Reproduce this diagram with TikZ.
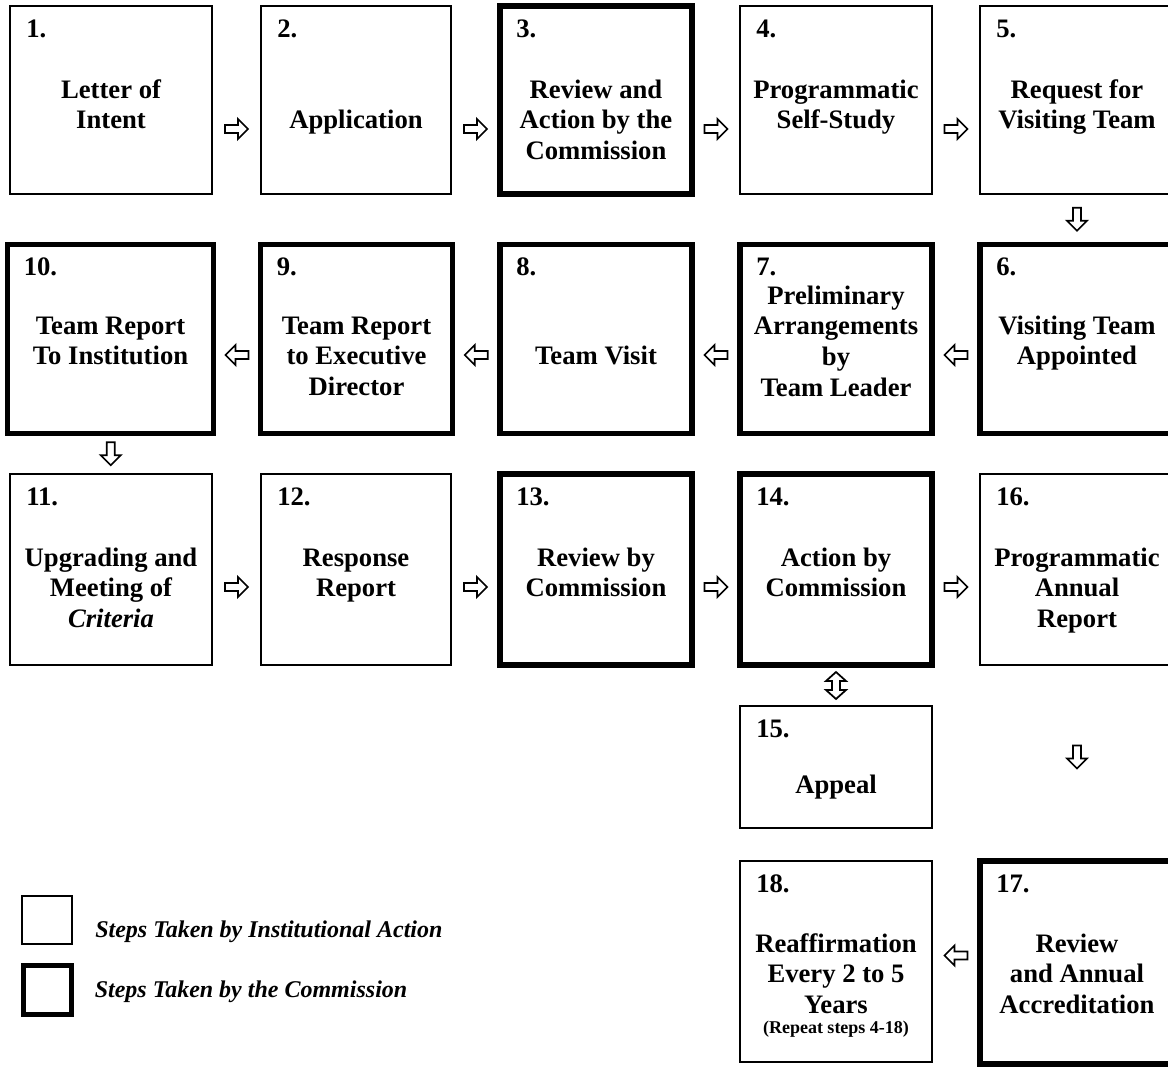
\documentclass[tikz,border=0pt]{standalone}
\usepackage{fontspec}
\setmainfont{Liberation Serif}
\usetikzlibrary{calc}
\newcommand\fs{\rule{0pt}{15pt}}
\newcommand\mkstep[6]{\node[#1, minimum width=#5*0.75pt, minimum height=#6*0.75pt] (#2) at (#3,#4) {};}
\begin{document}
\begin{tikzpicture}[x=0.75pt,y=-0.75pt,
  basebox/.style={draw, rectangle, inner sep=0pt, outer sep=0pt, anchor=north west},
  thinbox/.style={basebox, line width=1.5pt},
  thickbox/.style={basebox, line width=4.1pt},
  txt/.style={font=\fontsize{20pt}{23pt}\selectfont\bfseries, align=center, inner sep=0pt, anchor=north},
  num/.style={font=\fontsize{20pt}{23pt}\selectfont\bfseries, inner sep=0pt, anchor=base west},
  small/.style={font=\fontsize{13.5pt}{16pt}\selectfont\bfseries, inner sep=0pt, anchor=base},
  legtxt/.style={font=\fontsize{18pt}{21pt}\selectfont\bfseries\itshape, inner sep=0pt, anchor=base west},
  arrowline/.style={draw, line width=1.3pt, line join=miter, fill=white},
  rarrow/.pic={\path[arrowline] (-11.5,-4) -- (1.5,-4) -- (1.5,-10) -- (11.5,0) -- (1.5,10) -- (1.5,4) -- (-11.5,4) -- cycle;},
  larrow/.pic={\path[arrowline] (11.5,-4) -- (-1.5,-4) -- (-1.5,-10) -- (-11.5,0) -- (-1.5,10) -- (-1.5,4) -- (11.5,4) -- cycle;},
  darrow/.pic={\path[arrowline] (-4,-11.5) -- (-4,1.5) -- (-10,1.5) -- (0,11.5) -- (10,1.5) -- (4,1.5) -- (4,-11.5) -- cycle;},
  udarrow/.pic={\path[arrowline] (0,-13.5) -- (10,-4.5) -- (4,-4.5) -- (4,4.5) -- (10,4.5) -- (0,13.5) -- (-10,4.5) -- (-4,4.5) -- (-4,-4.5) -- (-10,-4.5) -- cycle;}
]
\useasboundingbox (0,0) rectangle (1168,1067);

% Row 1
\mkstep{thinbox}{b1}{10}{6}{202}{188}
\mkstep{thinbox}{b2}{261}{6}{190}{188}
\mkstep{thickbox}{b3}{500}{6}{192}{188}
\mkstep{thinbox}{b4}{740}{6}{192}{188}
\mkstep{thinbox}{b5}{980}{6}{194}{188}
% Row 2
\mkstep{thickbox}{b10}{7.5}{244.5}{206}{189}
\mkstep{thickbox}{b9}{260.5}{244.5}{192}{189}
\mkstep{thickbox}{b8}{500}{244.5}{192}{189}
\mkstep{thickbox}{b7}{740}{244.5}{192}{189}
\mkstep{thickbox}{b6}{980}{244.5}{194}{189}
% Row 3
\mkstep{thinbox}{b11}{10}{474}{202}{191}
\mkstep{thinbox}{b12}{261}{474}{190}{191}
\mkstep{thickbox}{b13}{500}{474}{192}{191}
\mkstep{thickbox}{b14}{740}{474}{192}{191}
\mkstep{thinbox}{b16}{980}{474}{194}{191}
% Row 4 and 5
\mkstep{thinbox}{b15}{740}{706}{192}{122}
\mkstep{thinbox}{b18}{740}{861}{192}{201}
\mkstep{thickbox}{b17}{980}{861}{194}{203}

% numbers
\foreach \b/\n in {b1/1.,b2/2.,b3/3.,b4/4.,b5/5.,b10/10.,b9/9.,b8/8.,b7/7.,b6/6.,b11/11.,b12/12.,b13/13.,b14/14.,b16/16.,b15/15.,b18/18.,b17/17.}
  \node[num] (n\b) at ($(\b.north west)+(16,31)$) {\n};

% texts
\node[txt] (t1) at ($(b1.north)+(0,72)$) {\fs Letter of\\Intent};
\node[txt] (t2) at ($(b2.north)+(0,102)$) {\fs Application};
\node[txt] (t3) at ($(b3.north)+(0,72)$) {\fs Review and\\Action by the\\Commission};
\node[txt] (t4) at ($(b4.north)+(0,72)$) {\fs Programmatic\\Self-Study};
\node[txt] (t5) at ($(b5.north)+(0,72)$) {\fs Request for\\Visiting Team};

\node[txt] (t10) at ($(b10.north)+(0,69.5)$) {\fs Team Report\\To Institution};
\node[txt] (t9) at ($(b9.north)+(0,69.5)$) {\fs Team Report\\to Executive\\Director};
\node[txt] (t8) at ($(b8.north)+(0,99.5)$) {\fs Team Visit};
\node[txt] (t7) at ($(b7.north)+(0,39.5)$) {\fs Preliminary\\Arrangements\\by\\Team Leader};
\node[txt] (t6) at ($(b6.north)+(0,69.5)$) {\fs Visiting Team\\Appointed};

\node[txt] (t11) at ($(b11.north)+(0,72)$) {\fs Upgrading and\\Meeting of\\\textit{Criteria}};
\node[txt] (t12) at ($(b12.north)+(0,72)$) {\fs Response\\Report};
\node[txt] (t13) at ($(b13.north)+(0,72)$) {\fs Review by\\Commission};
\node[txt] (t14) at ($(b14.north)+(0,72)$) {\fs Action by\\Commission};
\node[txt] (t16) at ($(b16.north)+(0,72)$) {\fs Programmatic\\Annual\\Report};

\node[txt] (t15) at ($(b15.north)+(0,67)$) {\fs Appeal};
\node[txt] (t18) at ($(b18.north)+(0,71)$) {\fs Reaffirmation\\Every 2 to 5\\Years};
\node[small] (t18s) at ($(b18.north)+(0,172)$) {(Repeat steps 4-18)};
\node[txt] (t17) at ($(b17.north)+(0,71)$) {\fs Review\\and Annual\\Accreditation};

% arrows
\pic at ($(b1.east)!0.5!(b2.west)+(0,29)$) {rarrow};
\pic at ($(b2.east)!0.5!(b3.west)+(0,29)$) {rarrow};
\pic at ($(b3.east)!0.5!(b4.west)+(0,29)$) {rarrow};
\pic at ($(b4.east)!0.5!(b5.west)+(0,29)$) {rarrow};
\pic at ($(b5.south)!0.5!(b6.north)$) {darrow};
\pic at ($(b6.west)!0.5!(b7.east)+(0,16)$) {larrow};
\pic at ($(b7.west)!0.5!(b8.east)+(0,16)$) {larrow};
\pic at ($(b8.west)!0.5!(b9.east)+(0,16)$) {larrow};
\pic at ($(b9.west)!0.5!(b10.east)+(0,16)$) {larrow};
\pic at ($(b10.south)!0.5!(b11.north)$) {darrow};
\pic at ($(b11.east)!0.5!(b12.west)+(0,17.5)$) {rarrow};
\pic at ($(b12.east)!0.5!(b13.west)+(0,17.5)$) {rarrow};
\pic at ($(b13.east)!0.5!(b14.west)+(0,17.5)$) {rarrow};
\pic at ($(b14.east)!0.5!(b16.west)+(0,17.5)$) {rarrow};
\pic at ($(b14.south)!0.5!(b15.north)$) {udarrow};
\pic at ($(b16.south)!0.5!(b17.north)+(0,-6)$) {darrow};
\pic at ($(b17.west)!0.5!(b18.east)+(0,-6.5)$) {larrow};

% legend
\mkstep{thinbox}{leg1}{22}{896}{50}{48}
\mkstep{thickbox}{leg2}{23.5}{965.5}{48}{49}
\node[legtxt] (lt1) at ($(leg1.east)+(23,17)$) {Steps Taken by Institutional Action};
\node[legtxt] (lt2) at ($(leg2.east)+(23,7)$) {Steps Taken by the Commission};
\end{tikzpicture}
\end{document}
